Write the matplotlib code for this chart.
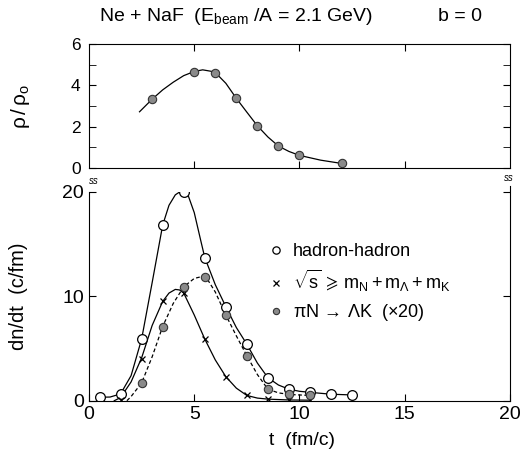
import numpy as np
import matplotlib
matplotlib.use("Agg")
import matplotlib.pyplot as plt

plt.rcParams['font.family'] = ['Liberation Sans', 'DejaVu Sans']
plt.rcParams['mathtext.fontset'] = 'custom'
plt.rcParams['mathtext.rm'] = 'Liberation Sans'
plt.rcParams['mathtext.it'] = 'Liberation Sans'
plt.rcParams['mathtext.default'] = 'regular'

# gornji panel: gustoca rho/rho0
t_rho = [3, 5, 6, 7, 8, 9, 10, 12]
rho = [3.33, 4.65, 4.62, 3.37, 2.04, 1.06, 0.61, 0.22]
t_rho_kr = [2.4, 3.0, 3.5, 4.0, 4.5, 5.0, 5.4, 5.8, 6.0, 6.5, 7.0, 7.5, 8.0, 8.5, 9.0, 9.5, 10.0, 11.0, 12.0]
rho_kr = [2.72, 3.33, 3.78, 4.15, 4.47, 4.67, 4.75, 4.68, 4.62, 4.1, 3.37, 2.7, 2.04, 1.5, 1.06, 0.8, 0.61, 0.38, 0.22]

# donji panel: dn/dt
t_hh = [0.5, 1.5, 2.5, 3.5, 4.5, 5.5, 6.5, 7.5, 8.5, 9.5, 10.5, 11.5, 12.5]
hh = [0.33, 0.6, 5.9, 16.8, 20.0, 13.7, 9.0, 5.4, 2.2, 1.1, 0.8, 0.6, 0.55]
t_hh_kr = [0.5, 1.0, 1.5, 2.0, 2.5, 3.0, 3.5, 3.8, 4.1, 4.4, 4.7, 5.0, 5.3, 5.5, 6.0, 6.5, 7.0, 7.5, 8.0, 8.5, 9.0, 9.5, 10.0, 10.5, 11.5, 12.5]
hh_kr = [0.33, 0.35, 0.65, 2.4, 5.9, 11.3, 16.8, 18.7, 19.7, 20.1, 19.7, 18.0, 15.4, 13.7, 11.1, 9.0, 7.0, 5.4, 3.6, 2.2, 1.5, 1.1, 0.9, 0.8, 0.62, 0.55]

t_s = [1.5, 2.5, 3.5, 4.5, 5.5, 6.5, 7.5, 8.5, 9.5, 10.5]
s_thr = [0.1, 4.0, 9.5, 10.3, 5.9, 2.3, 0.5, 0.15, 0.08, 0.05]
t_s_kr = [1.2, 1.5, 2.0, 2.5, 3.0, 3.5, 3.8, 4.1, 4.3, 4.5, 5.0, 5.5, 6.0, 6.5, 7.0, 7.5, 8.0, 8.5, 9.5, 10.5]
s_kr = [0.0, 0.3, 1.8, 4.1, 7.2, 9.5, 10.3, 10.65, 10.6, 10.3, 8.2, 5.9, 3.9, 2.3, 1.2, 0.5, 0.25, 0.15, 0.07, 0.05]

t_pi = [2.5, 3.5, 4.5, 5.5, 6.5, 7.5, 8.5, 9.5, 10.5]
pi = [1.7, 7.1, 10.9, 11.8, 8.2, 4.3, 1.1, 0.6, 0.5]
t_pi_kr = [1.8, 2.0, 2.5, 3.0, 3.5, 4.0, 4.5, 5.0, 5.3, 5.6, 6.0, 6.5, 7.0, 7.5, 8.0, 8.5, 9.0, 9.5, 10.5]
pi_kr = [0.0, 0.4, 1.7, 4.2, 7.1, 9.3, 10.9, 11.7, 11.85, 11.7, 10.4, 8.2, 6.2, 4.3, 2.5, 1.1, 0.75, 0.6, 0.5]

siva = '#8a8a8a'
tamna = '#333333'

fig = plt.figure(figsize=(5.22, 4.57), dpi=100)
ax1 = fig.add_axes([0.1705, 0.6324, 0.8065, 0.2713])
ax2 = fig.add_axes([0.1705, 0.1232, 0.8065, 0.4573])

# gornji
ax1.plot(t_rho_kr, rho_kr, color='k', lw=0.9)
ax1.plot(t_rho, rho, ls='none', marker='o', ms=6, mfc=siva, mec=tamna, mew=0.8)
ax1.set_xlim(0, 20)
ax1.set_ylim(0, 6)
ax1.set_yticks([0, 2, 4, 6])
ax1.set_yticks([1, 3, 5], minor=True)
ax1.set_xticks([5, 10, 15])
ax1.tick_params(axis='both', which='both', direction='in', top=True, right=True,
                labelbottom=False, labelsize=12.5, length=5, pad=6)
ax1.set_ylabel(r'$\rho\,/\,\rho_{o}$', fontsize=15)
ax1.yaxis.set_label_coords(-0.135, 0.5)

# donji
ax2.plot(t_hh_kr, hh_kr, color='k', lw=0.9)
ax2.plot(t_s_kr, s_kr, color='k', lw=0.9)
ax2.plot(t_pi_kr, pi_kr, color='k', lw=0.9, ls=(0, (3, 2)))
h1, = ax2.plot(t_hh, hh, ls='none', marker='o', ms=7, mfc='white', mec='k', mew=0.9)
h2, = ax2.plot(t_s, s_thr, ls='none', marker='x', ms=5, mec='k', mew=0.9)
h3, = ax2.plot(t_pi, pi, ls='none', marker='o', ms=6, mfc=siva, mec=tamna, mew=0.8)
ax2.set_xlim(0, 20)
ax2.set_ylim(0, 20)
ax2.set_xticks([0, 5, 10, 15, 20])
ax2.set_yticks([0, 10, 20])
ax2.tick_params(axis='both', direction='in', right=True, labelsize=14, length=5)
ax2.spines['top'].set_visible(False)
ax2.spines['right'].set_bounds(0, 20.5)
ax2.set_ylabel('dn/dt  (c/fm)', fontsize=14.5)
ax2.yaxis.set_label_coords(-0.145, 0.5)
ax2.set_xlabel('t  (fm/c)', fontsize=14)
ax2.xaxis.set_label_coords(0.505, -0.15)

ax2.legend([h1, h2, h3],
           ['hadron-hadron',
            r'$\sqrt{s}\,\geqslant\,m_{N}+m_{\Lambda}+m_{K}$',
            r'$\pi N\,\rightarrow\,\Lambda K$  (×20)'],
           loc='upper left', bbox_to_anchor=(0.415, 0.79), frameon=False,
           fontsize=13, markerscale=0.75, handlelength=0.6, handletextpad=0.6,
           labelspacing=0.45, borderaxespad=0)

# oznake prekida osi
ax2.text(0.0, 1.025, 'ss', transform=ax2.transAxes, fontsize=7, style='italic', ha='left', va='bottom')
ax2.text(0.985, 1.04, 'ss', transform=ax2.transAxes, fontsize=7, style='italic', ha='left', va='bottom')

fig.text(0.19, 0.955, r'Ne + NaF  (E$_{beam}$ /A = 2.1 GeV)', fontsize=14)
fig.text(0.84, 0.955, 'b = 0', fontsize=14)

fig.savefig('out.png', dpi=100)
